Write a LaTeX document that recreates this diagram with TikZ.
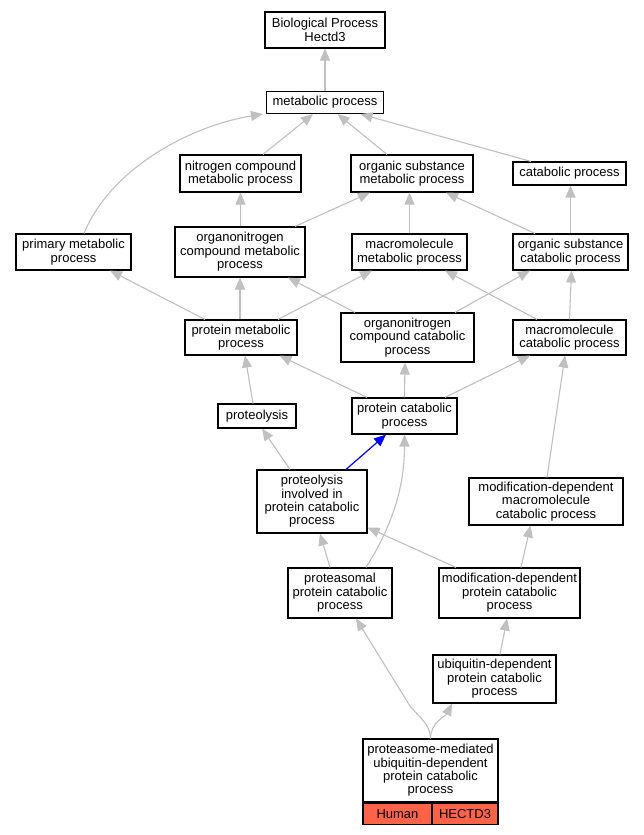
\documentclass[tikz,border=0pt]{standalone}
\usepackage{fontspec}
\setmainfont{Liberation Sans}
\usetikzlibrary{arrows.meta}
\definecolor{edgegray}{RGB}{192,192,192}
\definecolor{tomatored}{RGB}{255,99,71}
\begin{document}
\begin{tikzpicture}[x=1pt,y=-1pt,
 box/.style={draw=black, line width=1.1pt, fill=white, align=center, inner sep=0pt, font=\fontsize{13}{13.4}\selectfont},
 edge/.style={color=edgegray, line width=1.1pt, -{Triangle[length=12pt,width=10pt]}},
 hl/.style={color=blue, line width=1.2pt, -{Triangle[length=12pt,width=10pt]}}]
\useasboundingbox[fill=white] (0,0) rectangle (644,835);
\node[box, minimum width=120, minimum height=36] (bp) at (325,30) {Biological Process\\Hectd3};
\node[box, minimum width=117, minimum height=22] (met) at (325,102.5) {metabolic process};
\node[box, minimum width=121, minimum height=37] (nit) at (240.5,173.5) {nitrogen compound\\metabolic process};
\node[box, minimum width=122, minimum height=37] (osm) at (412,173.5) {organic substance\\metabolic process};
\node[box, minimum width=113, minimum height=23] (cat) at (569.5,173.5) {catabolic process};
\node[box, minimum width=115, minimum height=36] (prim) at (73.5,252) {primary metabolic\\process};
\node[box, minimum width=130, minimum height=50] (onm) at (240,252) {organonitrogen\\compound metabolic\\process};
\node[box, minimum width=115, minimum height=36] (mmp) at (409.5,252) {macromolecule\\metabolic process};
\node[box, minimum width=115, minimum height=36] (osc) at (570.5,252) {organic substance\\catabolic process};
\node[box, minimum width=112, minimum height=35] (pm) at (241,337.5) {protein metabolic\\process};
\node[box, minimum width=133, minimum height=49] (onc) at (407.5,337.5) {organonitrogen\\compound catabolic\\process};
\node[box, minimum width=113, minimum height=35] (mc) at (569.5,337.5) {macromolecule\\catabolic process};
\node[box, minimum width=78, minimum height=24] (prot) at (257,416) {proteolysis};
\node[box, minimum width=105, minimum height=36] (pc) at (404.5,416) {protein catabolic\\process};
\node[box, minimum width=110, minimum height=63] (pipcp) at (312,501.5) {proteolysis\\involved in\\protein catabolic\\process};
\node[box, minimum width=154, minimum height=47] (mdmc) at (546,501.5) {modification-dependent\\macromolecule\\catabolic process};
\node[box, minimum width=104, minimum height=50] (pas) at (340,593) {proteasomal\\protein catabolic\\process};
\node[box, minimum width=141, minimum height=50] (mdpc) at (509.5,593) {modification-dependent\\protein catabolic\\process};
\node[box, minimum width=123, minimum height=48] (ubq) at (494.5,679) {ubiquitin-dependent\\protein catabolic\\process};
\node[box, minimum width=135, minimum height=63] (pmu) at (430.5,770.5) {proteasome-mediated\\ubiquitin-dependent\\protein catabolic\\process};
\node[box, fill=tomatored, minimum width=69, minimum height=21, anchor=north west] (hum) at (pmu.south west) {Human};
\node[box, fill=tomatored, minimum width=66, minimum height=21, anchor=north east] (hec) at (pmu.south east) {HECTD3};

\draw[edge] (met.north) -- (bp.south);
\draw[edge] ([xshift=10.5pt]prim.north) .. controls +(26,-64) and +(-74,12) .. ([xshift=-3pt]met.south west);
\draw[edge] ([xshift=22.5pt]nit.north) -- ([xshift=-12pt]met.south);
\draw[edge] ([xshift=-25pt]osm.north) -- ([xshift=12.5pt]met.south);
\draw[edge] ([xshift=-38.5pt]cat.north) -- ([xshift=35.5pt]met.south);
\draw[edge] ([xshift=0.5pt]onm.north) -- (nit.south);
\draw[edge] ([xshift=55pt]onm.north) -- ([xshift=-42pt]osm.south);
\draw[edge] (mmp.north) -- ([xshift=-2.5pt]osm.south);
\draw[edge] ([xshift=-35.5pt]osc.north) -- ([xshift=34pt]osm.south);
\draw[edge] (osc.north) -- ([xshift=1pt]cat.south);
\draw[edge] ([xshift=-36pt]pm.north) -- ([xshift=36.5pt]prim.south);
\draw[edge] ([xshift=-1pt]pm.north) -- (onm.south);
\draw[edge] ([xshift=37pt]pm.north) -- ([xshift=-37.5pt]mmp.south);
\draw[edge] ([xshift=-52.5pt]onc.north) -- ([xshift=48pt]onm.south);
\draw[edge] ([xshift=47.5pt]onc.north) -- ([xshift=-40.5pt]osc.south);
\draw[edge] ([xshift=-32.5pt]mc.north) -- ([xshift=35.5pt]mmp.south);
\draw[edge] (mc.north) -- ([xshift=1pt]osc.south);
\draw[edge] ([xshift=-4pt]prot.north) -- ([xshift=4pt]pm.south);
\draw[edge] ([xshift=-37.5pt]pc.north) -- ([xshift=38.5pt]pm.south);
\draw[edge] (pc.north) -- ([xshift=-2.5pt]onc.south);
\draw[edge] ([xshift=40.5pt]pc.north) -- ([xshift=-39.5pt]mc.south);
\draw[edge] ([xshift=-22pt]pipcp.north) -- ([xshift=5pt]prot.south);
\draw[hl] ([xshift=34pt]pipcp.north) -- ([xshift=-18.5pt]pc.south);
\draw[edge] ([xshift=1pt]mdmc.north) -- ([xshift=-4.5pt]mc.south);
\draw[edge] ([xshift=-10pt]pas.north) -- ([xshift=8pt]pipcp.south);
\draw[edge] ([xshift=26pt]pas.north) .. controls +(24,-38) and +(0,56) .. (pc.south);
\draw[edge] ([xshift=-53.5pt]mdpc.north) -- ([yshift=6pt]pipcp.south east);
\draw[edge] ([xshift=11.5pt]mdpc.north) -- ([xshift=-15.5pt]mdmc.south);
\draw[edge] ([xshift=5.5pt]ubq.north) -- ([xshift=-2.5pt]mdpc.south);
\coordinate (kink) at (410,706);
\draw[edge] (pmu.north) .. controls +(0,-14) and (419,717) .. (kink) -- ([xshift=16pt]pas.south);
\draw[edge] (pmu.north) .. controls +(0,-16) and +(-6,12) .. ([xshift=-42.5pt]ubq.south);
\end{tikzpicture}
\end{document}
